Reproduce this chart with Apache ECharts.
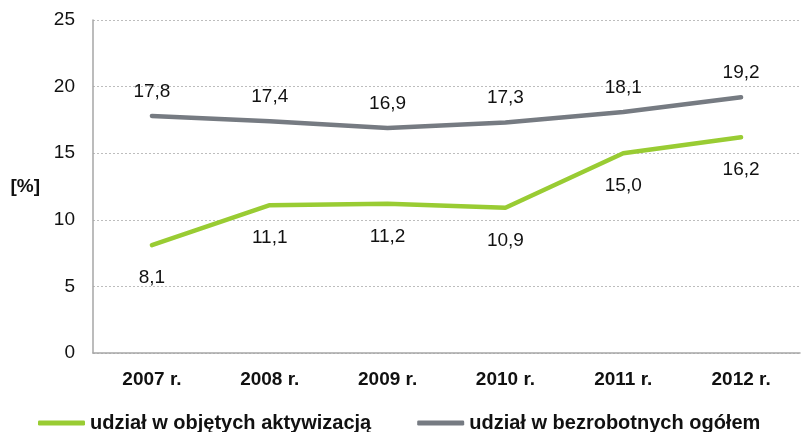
<!DOCTYPE html>
<html>
<head>
<meta charset="utf-8">
<script src="https://cdn.jsdelivr.net/npm/echarts@6/dist/echarts.min.js"></script>
<style>
  html, body { margin: 0; padding: 0; background: #fff; }
  #chart { width: 803px; height: 432px; }
</style>
</head>
<body>
<div id="chart"></div>
<script>
const years = ['2007 r.', '2008 r.', '2009 r.', '2010 r.', '2011 r.', '2012 r.']
const activated = [8.1, 11.1, 11.2, 10.9, 15.0, 16.2]
const unemployed = [17.8, 17.4, 16.9, 17.3, 18.1, 19.2]
const seriesNames = ['udział w objętych aktywizacją', 'udział w bezrobotnych ogółem']

const fmt = p => p.value.toFixed(1).replace('.', ',')
const font = 'Liberation Sans, Arial, sans-serif'

let myChart = echarts.init(document.getElementById('chart'))
let option = {
  animation: false,
  textStyle: { fontFamily: font },
  grid: { left: 93, right: 3, top: 20, bottom: 79, containLabel: false, outerBoundsMode: 'none' },
  legend: {
    top: 408,
    left: 33,
    itemWidth: 47,
    itemHeight: 5,
    itemGap: 46,
    icon: 'roundRect',
    textStyle: { fontSize: 20, fontWeight: 'bold', color: '#111', fontFamily: font },
    data: seriesNames
  },
  xAxis: {
    type: 'category',
    data: years,
    axisLine: { lineStyle: { color: '#a6a6a6', width: 1.5 } },
    axisTick: { show: false },
    axisLabel: { fontSize: 19, fontWeight: 'bold', color: '#111', margin: 17 }
  },
  yAxis: {
    type: 'value',
    min: 0,
    max: 25,
    interval: 5,
    name: '[%]',
    nameLocation: 'middle',
    nameRotate: 0,
    nameGap: 53,
    nameTextStyle: { fontSize: 19, fontWeight: 'bold', color: '#111' },
    axisLine: { show: true, lineStyle: { color: '#a6a6a6', width: 1.5 } },
    axisTick: { show: false },
    axisLabel: { fontSize: 19, color: '#111', margin: 18 },
    splitLine: { lineStyle: { color: '#bdbdbd', type: [2, 2] } }
  },
  series: [
    {
      name: seriesNames[0],
      type: 'line',
      data: activated,
      symbol: 'circle',
      symbolSize: 0.1,
      showSymbol: true,
      lineStyle: { color: '#99cc33', width: 4.5, cap: 'round' },
      itemStyle: { color: '#99cc33' },
      label: {
        show: true, position: 'bottom', distance: 23,
        fontSize: 19, color: '#111', formatter: fmt
      }
    },
    {
      name: seriesNames[1],
      type: 'line',
      data: unemployed,
      symbol: 'circle',
      symbolSize: 0.1,
      showSymbol: true,
      lineStyle: { color: '#767b82', width: 4.5, cap: 'round' },
      itemStyle: { color: '#767b82' },
      label: {
        show: true, position: 'top', distance: 15,
        fontSize: 19, color: '#111', formatter: fmt
      }
    }
  ]
}
option && myChart.setOption(option)
</script>
</body>
</html>
